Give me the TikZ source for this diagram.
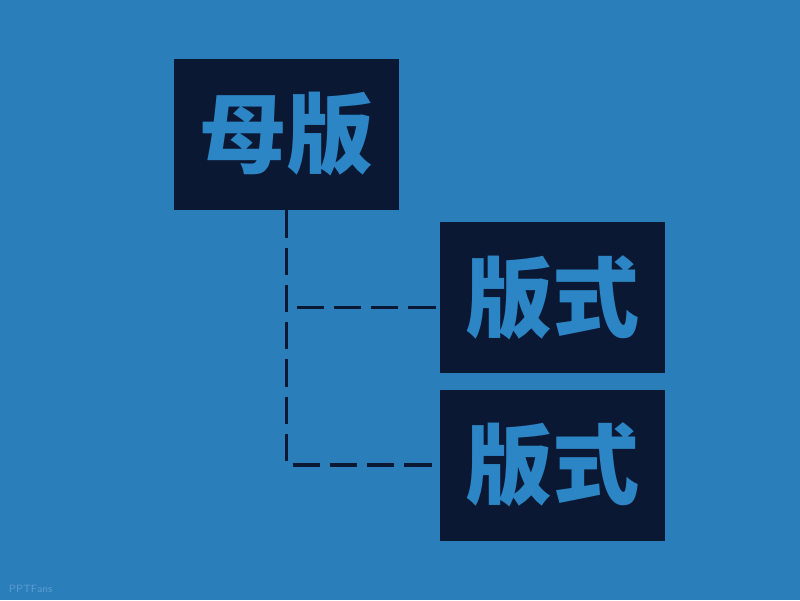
\documentclass[tikz,border=0pt]{standalone}
\usepackage{fontspec}
\usepackage{tikz}
\usepackage{xcolor}
\usetikzlibrary{positioning}
\newfontfamily\cjk{Noto Sans CJK SC}
\definecolor{bgblue}{HTML}{2A7EB9}
\definecolor{boxnavy}{HTML}{0B1833}
\definecolor{txtblue}{HTML}{2C85C5}
\definecolor{markblue}{HTML}{5C9BD2}

\begin{document}
\begin{tikzpicture}[
        box/.style={fill=boxnavy, minimum width=5.625cm, minimum height=3.775cm, inner sep=0pt,
                    text=txtblue, font=\cjk\bfseries\fontsize{62}{62}\selectfont},
        link/.style={draw=boxnavy, line width=2.4pt, dash pattern=on 19.5pt off 7pt}]
                \fill[bgblue] (0,0) rectangle (20,15);
                \useasboundingbox (0,0) rectangle (20,15);
                \node[box] (mother) at (7.1625,11.6375) {母版};
                \node[box] (layoutA) at (13.8125,7.5625) {版式};
                \node[box] (layoutB) at (13.8125,3.375) {版式};
                \coordinate (branch) at ([yshift=-0.25cm]layoutA.west);
                \draw[link] (mother.south) |- (layoutB.west);
                \draw[link] ([xshift=0.25cm]mother.south |- branch) -- (branch);
                \node[anchor=south west, text=markblue, font=\sffamily\fontsize{7.5}{7.5}\selectfont] (mark) at (0.1,0.05) {PPTFans};
            \end{tikzpicture}
\end{document}
